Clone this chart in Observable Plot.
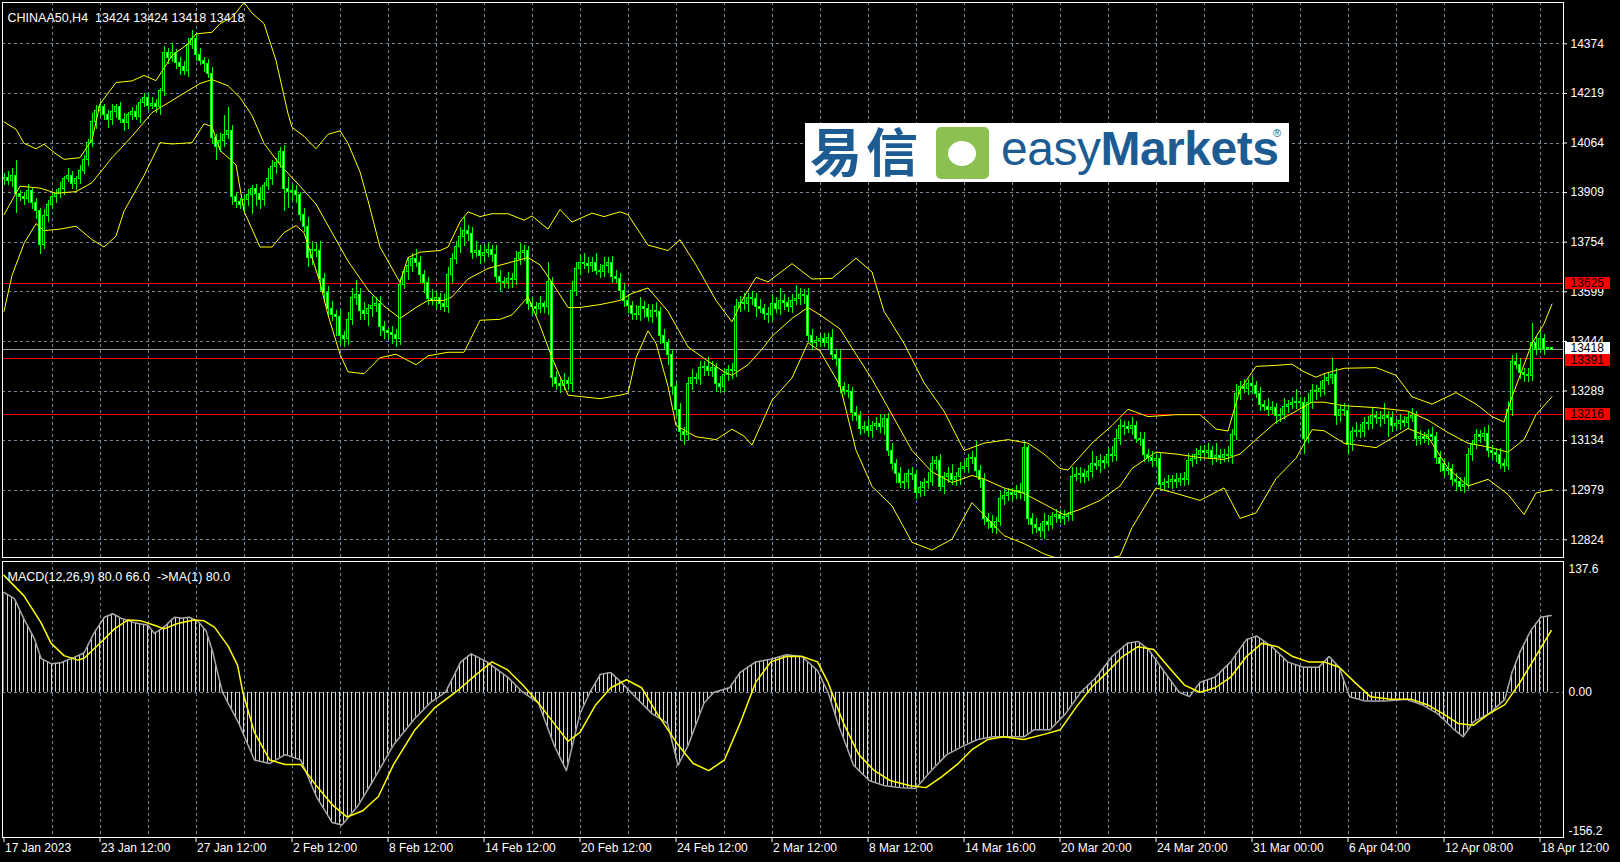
<!DOCTYPE html>
<html><head><meta charset="utf-8">
<script src="https://cdn.jsdelivr.net/npm/d3@7"></script>
<script src="https://cdn.jsdelivr.net/npm/@observablehq/plot@0.6"></script>
<style>
html,body{margin:0;padding:0;background:#000;}
#chart{position:relative;width:1620px;height:862px;overflow:hidden;background:#000;}
#main,#macd{position:absolute;left:0;}
#main{top:0}
#macd{top:560px}
#logo{position:absolute;left:805px;top:123px;}
</style></head><body>
<div id="chart">
<div id="main"></div>
<div id="macd"></div>
<svg id="logo" width="484" height="59" viewBox="0 0 484 59">
  <rect width="484" height="59" fill="#ffffff"/>
  <text x="5" y="49" font-family="'Noto Sans CJK SC'" font-weight="700" font-size="52" fill="#1d5c93" letter-spacing="4">易信</text>
  <rect x="131" y="4" width="53" height="52" rx="5" fill="#8cc152"/>
  <ellipse cx="157" cy="30.5" rx="14" ry="12.5" fill="#ffffff"/>
  <text x="196" y="42" font-family="'Liberation Sans', Arial, sans-serif" font-size="48" fill="#1d5c93" letter-spacing="-0.5"><tspan>easy</tspan><tspan font-weight="700">Markets</tspan></text>
  <text x="468" y="14" font-family="'Liberation Sans', Arial, sans-serif" font-size="11" fill="#1d5c93">®</text>
</svg>
</div>
<script>
// ---------------- DATA ----------------
const titleText = "CHINAA50,H4  13424 13424 13418 13418";
const macdTitle = "MACD(12,26,9) 80.0 66.0  ->MA(1) 80.0";

// price axis tick labels
const priceTicks = [14374,14219,14064,13909,13754,13599,13444,13289,13134,12979,12824];
// horizontal level lines and current bid
const levels = [13625,13391,13216];
const bid = 13418;

// time axis labels (bar index -> label)
const dateIdx = [0,24,48,72,96,120,144,168,192,216,240,264,288,312,336,360,384];
const dateLabels = ["17 Jan 2023","23 Jan 12:00","27 Jan 12:00","2 Feb 12:00","8 Feb 12:00","14 Feb 12:00","20 Feb 12:00","24 Feb 12:00","2 Mar 12:00","8 Mar 12:00","14 Mar 16:00","20 Mar 20:00","24 Mar 20:00","31 Mar 00:00","6 Apr 04:00","12 Apr 08:00","18 Apr 12:00"];

// MACD axis labels
const macdTicks = [137.6, 0, -156.2];
const macdTickLabels = ["137.6","0.00","-156.2"];

// H4 candles: first open, then close per bar (open = previous close)
const firstOpen = 13950;
const closes = [
13955,13945,13960,13905,13895,13890,13915,13875,13850,13745,13835,13870,
13895,13905,13920,13950,13960,13935,13950,13975,14010,14065,14130,14165,
14175,14150,14135,14160,14175,14135,14125,14150,14160,14145,14190,14205,
14180,14185,14175,14225,14345,14330,14345,14315,14300,14290,14370,14390,
14340,14320,14310,14280,14080,14050,14070,14090,14100,13895,13880,13870,
13885,13900,13920,13905,13885,13930,13950,13990,14000,14035,13920,13910,
13915,13900,13840,13800,13705,13730,13725,13640,13595,13545,13525,13520,
13460,13450,13510,13580,13590,13540,13530,13545,13555,13560,13490,13475,
13470,13465,13450,13620,13660,13680,13700,13690,13650,13625,13575,13570,
13580,13560,13550,13650,13700,13740,13770,13790,13780,13720,13725,13710,
13720,13730,13715,13645,13630,13625,13640,13635,13700,13720,13725,13560,
13550,13545,13560,13550,13630,13330,13310,13305,13320,13310,13600,13670,
13690,13685,13680,13690,13665,13660,13680,13690,13645,13640,13600,13570,
13555,13530,13525,13550,13545,13520,13540,13535,13460,13440,13400,13300,
13230,13160,13150,13310,13330,13325,13360,13365,13350,13360,13310,13300,
13340,13355,13350,13550,13565,13560,13580,13575,13550,13545,13530,13525,
13560,13545,13570,13565,13550,13570,13575,13590,13585,13460,13440,13445,
13450,13440,13455,13400,13390,13300,13290,13285,13220,13210,13170,13175,
13165,13180,13185,13175,13200,13100,13060,13030,13000,13005,13030,13025,
12970,12985,13000,13005,13060,13070,12990,13020,13030,13010,13020,13045,
13050,13075,13080,13040,13010,12890,12880,12860,12880,12950,12960,12970,
12965,12975,12970,13110,12890,12870,12860,12850,12880,12870,12895,12900,
12890,12895,12900,13020,13025,13030,13020,13035,13060,13055,13070,13065,
13090,13085,13140,13180,13175,13170,13180,13140,13135,13090,13080,13070,
13075,12995,13000,13005,13010,13005,13015,13010,13070,13075,13090,13100,
13095,13100,13080,13085,13080,13090,13085,13150,13280,13300,13295,13310,
13305,13280,13245,13240,13230,13235,13210,13215,13240,13245,13250,13255,
13250,13140,13250,13290,13285,13295,13320,13330,13340,13210,13230,13225,
13120,13160,13165,13160,13190,13185,13210,13205,13200,13210,13205,13180,
13185,13195,13190,13205,13210,13140,13145,13140,13150,13145,13080,13060,
13040,13045,13010,13005,12990,12995,13090,13120,13150,13145,13155,13100,
13095,13090,13060,13055,13230,13380,13370,13345,13340,13335,13440,13420,
13450,13420,13424,13418];
// upper wick above body top, lower wick below body bottom (price units)
const wickUp = [
15,20,25,50,10,15,20,10,15,10,20,15,
10,15,20,10,25,15,10,20,15,10,25,15,
20,10,15,25,10,15,20,10,15,20,10,15,
10,20,15,10,20,15,30,10,15,20,20,25,
15,20,10,15,20,10,25,60,75,20,15,10,
15,20,10,15,20,10,35,20,15,15,20,35,
20,15,10,20,30,25,20,30,15,20,25,15,
20,15,25,30,45,20,25,15,30,20,25,15,
10,20,15,20,15,25,20,30,20,15,20,30,
20,15,30,25,20,15,30,40,15,20,30,20,
25,20,15,30,20,15,20,15,25,30,20,15,
20,15,25,10,60,15,20,15,25,10,30,20,
25,30,20,15,30,20,25,15,20,20,15,25,
20,15,25,30,20,15,20,25,15,20,10,20,
15,20,15,20,25,15,20,15,30,20,15,25,
20,15,20,25,20,30,15,20,20,25,15,20,
30,20,40,20,15,20,45,20,15,25,20,15,
15,20,15,25,20,30,15,20,15,20,15,20,
25,15,20,30,15,20,25,15,20,25,15,20,
15,20,15,30,25,15,20,15,20,30,15,20,
20,15,20,50,15,20,15,20,15,25,20,15,
15,20,25,20,10,15,20,15,25,20,15,20,
15,20,10,30,25,20,15,20,40,25,20,15,
20,25,30,20,15,20,25,15,20,25,15,20,
15,20,15,20,15,20,15,20,25,15,20,15,
20,25,15,40,20,15,25,20,30,20,25,15,
20,15,20,15,25,20,15,20,25,15,20,40,
15,20,30,20,15,25,20,15,50,20,15,20,
20,15,25,20,15,20,25,15,20,40,15,20,
15,20,15,20,25,15,20,15,20,25,15,20,
15,20,15,20,15,25,20,15,20,15,20,25,
20,15,20,15,25,20,25,20,15,20,60,20,
30,15,0,0];
const wickDown = [
20,15,20,60,15,20,15,20,25,30,15,20,
15,20,15,20,10,15,20,15,10,20,15,25,
20,15,25,15,20,10,25,20,15,10,20,15,
15,10,20,25,15,20,15,20,25,15,20,15,
20,15,25,15,20,40,15,20,15,25,20,15,
25,20,60,40,30,20,15,20,25,15,70,50,
30,25,20,15,30,25,20,40,30,25,20,60,
30,25,20,15,25,30,20,40,25,20,30,25,
20,30,25,20,15,25,20,15,25,30,20,15,
25,20,15,20,25,15,20,30,25,20,15,25,
20,15,25,20,30,15,20,25,15,20,25,20,
25,20,15,20,25,30,20,25,15,20,25,15,
20,15,25,20,15,20,15,25,20,15,25,20,
25,20,15,20,30,15,20,15,25,20,30,25,
20,25,30,15,20,15,20,25,15,20,25,20,
15,20,25,20,15,20,25,20,30,15,20,25,
20,15,20,25,15,20,15,20,25,15,20,15,
20,15,20,15,25,20,15,20,25,15,20,15,
20,25,15,20,25,15,20,30,15,20,25,15,
20,15,25,20,15,20,15,25,20,15,20,25,
15,20,15,20,25,20,25,15,20,15,20,15,
20,15,20,25,20,30,15,20,25,20,15,20,
15,20,15,20,15,25,20,15,20,15,25,20,
15,20,15,20,25,15,20,15,20,25,15,20,
20,15,20,15,25,20,15,20,15,20,15,20,
15,20,25,15,20,15,20,25,15,20,15,20,
25,15,20,15,20,15,25,20,15,20,15,20,
20,50,15,20,25,15,20,15,20,30,20,15,
30,20,15,20,15,20,15,20,25,15,60,20,
15,20,15,20,15,25,20,15,20,15,20,25,
20,15,20,30,15,20,15,20,15,20,15,20,
20,25,15,20,15,20,15,20,25,20,15,20,
15,20,0,0];

// Bollinger bands (20,2) read at sample bars
const upperIdx = [0,3,5,8,10,13,15,19,22,24,28,32,35,38,42,46,48,52,54,57,60,62,65,68,71,72,75,78,81,84,86,89,91,94,96,99,101,104,109,111,114,116,119,122,126,130,132,136,139,142,147,150,154,156,161,166,169,173,178,182,185,188,191,197,202,207,213,217,220,225,230,235,240,245,251,256,260,264,266,272,277,281,286,293,299,303,306,309,313,318,322,325,328,330,335,343,348,352,357,363,368,372,375,377,380,382,385,387];
const upperVal = [14130,14107,14063,14046,14060,14030,14013,14018,14074,14186,14253,14258,14275,14259,14337,14374,14405,14410,14437,14456,14503,14470,14437,14322,14156,14113,14085,14046,14091,14102,14063,13974,13884,13739,13695,13628,13706,13723,13728,13739,13817,13849,13834,13843,13843,13823,13836,13795,13856,13817,13845,13834,13849,13840,13745,13728,13762,13683,13572,13505,13583,13644,13630,13687,13639,13641,13704,13661,13538,13438,13315,13226,13103,13126,13137,13126,13092,13047,13042,13126,13181,13232,13209,13215,13215,13170,13164,13293,13366,13369,13373,13349,13332,13343,13360,13362,13338,13271,13248,13284,13248,13209,13192,13271,13371,13438,13499,13561];
const midIdx = [0,4,9,13,18,22,27,32,37,44,49,52,56,59,62,65,69,74,78,81,86,91,95,99,103,106,110,112,116,121,126,131,134,137,141,144,149,154,157,161,166,171,176,180,182,186,190,192,197,201,204,209,213,217,222,227,232,237,242,245,250,255,260,265,269,274,279,282,288,293,299,305,309,313,318,323,327,330,335,343,351,356,361,366,371,376,380,383,387];
const midVal = [13840,13929,13923,13907,13912,13940,14018,14085,14159,14212,14250,14262,14243,14206,14150,14063,13996,13929,13873,13806,13695,13605,13555,13516,13550,13572,13572,13583,13639,13672,13689,13706,13683,13628,13550,13550,13559,13572,13594,13611,13538,13427,13382,13349,13338,13371,13427,13460,13516,13550,13527,13483,13404,13326,13215,13103,13036,13003,13025,13014,12986,12969,12936,12902,12919,12947,12992,13047,13098,13092,13081,13075,13092,13137,13192,13226,13254,13254,13243,13237,13226,13198,13159,13126,13114,13098,13137,13215,13271];
const lowerIdx = [0,2,5,8,10,14,18,22,25,28,30,35,39,42,47,50,52,54,58,60,64,67,70,73,75,79,81,84,86,90,94,98,103,106,111,115,119,124,127,131,134,137,141,149,154,156,158,161,163,166,168,173,178,182,185,187,190,192,197,201,204,209,213,217,222,227,232,237,242,245,250,255,260,265,269,274,279,282,288,293,299,305,309,313,318,323,327,330,335,343,351,356,361,366,371,376,380,383,387];
const lowerVal = [13538,13650,13750,13812,13790,13795,13804,13762,13739,13773,13851,13962,14065,14061,14065,14124,14115,14041,13996,13851,13739,13739,13784,13806,13784,13628,13527,13404,13349,13343,13393,13404,13371,13399,13410,13410,13510,13513,13527,13583,13494,13393,13276,13265,13276,13282,13393,13477,13438,13304,13181,13146,13137,13170,13148,13120,13204,13260,13330,13440,13414,13306,13104,12991,12930,12816,12792,12826,12940,12902,12837,12812,12780,12759,12758,12760,12774,12862,12986,12969,12947,12986,12891,12908,13015,13079,13168,13165,13126,13112,13172,13146,13048,12992,13013,12966,12903,12970,12981];

// MACD main (histogram) and signal line, read at sample bars
const macdIdx = [0,2.6,5,7.6,9.25,11.75,14.25,17.5,20,22.6,25.1,27.2,29.25,32.6,36,37.6,40,42.6,44.7,46.3,48.4,50.5,52.2,53.4,54.6,58.7,62.6,66.4,70.3,74.2,78.1,82,84.5,88.4,92.3,97.4,102.6,106.5,110.4,114.2,116.8,120.7,125.9,129.7,133.6,137.5,140.6,144,146.5,149.1,151.7,154.3,158.2,162,165.9,168.5,171.1,175,177.5,181.4,184,187.9,191.7,195.6,199.5,203.4,206,208.5,212.4,216.3,220.2,224,227.9,231.8,235.7,239.5,243.4,247.3,251.2,255,257.6,261.5,265.4,269.2,273.1,277,280.9,283.5,286.1,289.9,293.8,296.4,299,302.8,306.7,310.6,313.2,317,320.9,324.8,328.7,331.3,333.8,336.4,340.3,345.5,350.6,354.5,358.4,362.3,364.8,367.4,371.3,375.2,377,379,381.7,384.2,386.8];
const macdVal = [112,105,82,60,38,32,33,39,44,67,84,88,83,78,75,66,73,84,83,84,80,69,45,22,0,-35,-76,-80,-70,-76,-117,-146,-149,-128,-99,-59,-30,-12,0,34,43,34,17,0,-12,-59,-88,-24,0,20,22,11,-7,-24,-35,-82,-59,-12,0,5,22,34,37,42,40,24,0,-35,-82,-99,-105,-107,-108,-88,-70,-61,-53,-50,-50,-50,-42,-42,-24,0,17,40,55,57,48,24,0,-5,11,17,34,59,63,51,34,28,28,40,28,-5,-10,-10,-8,-14,-24,-41,-50,-33,-24,-8,22,45,69,84,86];
const sigIdx = [0,5,9.25,11.75,15,18.4,20,24.25,27.6,31,34.25,37.6,40,43.4,47.5,50,52.6,56,58.4,59.7,62.6,66.4,70.3,74.2,78.1,82,85.8,89.7,93.6,97.4,102.6,107.8,112.9,118.1,122,125.9,129.7,133.6,137.5,141,144,147.8,151.7,155.6,159.4,163.3,168.5,172.3,176.2,180.1,184,187.9,191.7,195.6,199.5,203.4,206,209.9,213.7,217.6,221.5,226.6,230.5,234.4,238.3,242.1,246,249.9,255,260.2,264.1,268,271.8,275.7,279.6,283.5,287.4,291.2,295.1,299,302.8,306.7,310.6,314.5,318.4,322.2,326.1,330,333.8,337.7,341.6,346.8,351.9,355.8,359.7,363.5,367.4,371.3,375.2,379,382.9,386.8];
const sigVal = [131,108,78,55,41,36,38,56,71,81,80,75,71,77,81,80,73,52,30,0,-45,-76,-81,-81,-105,-126,-140,-133,-117,-81,-43,-17,0,20,34,25,8,-12,-35,-55,-45,-15,5,14,5,-24,-59,-80,-88,-76,-35,11,34,40,40,34,11,-35,-70,-88,-99,-105,-107,-95,-81,-64,-53,-50,-53,-47,-42,-17,5,22,40,51,48,28,8,0,5,17,40,55,51,40,34,34,28,11,-5,-8,-8,-14,-24,-35,-37,-24,-14,11,40,69];

// ---------------- BUILD ----------------
const candles = closes.map((c, i) => {
  const o = i === 0 ? firstOpen : closes[i - 1];
  return {i, o, c, h: Math.max(o, c) + wickUp[i], l: Math.min(o, c) - wickDown[i]};
});
const pts = (idx, val) => idx.map((i, k) => ({i, v: val[k]}));
const upper = pts(upperIdx, upperVal), mid = pts(midIdx, midVal), lower = pts(lowerIdx, lowerVal);
const macd = pts(macdIdx, macdVal), signal = pts(sigIdx, sigVal);
const gridIdx = d3.range(12, 388, 12);

const FONT = '"Liberation Sans", Arial, sans-serif';
const GRID = {stroke: "#778899", strokeDasharray: "3,3", shapeRendering: "crispEdges"};
const X = {domain: [0, 387], range: [3.5, 1551.5], axis: null};
const BOX = {insetLeft: 1563, insetRight: -47, strokeWidth: 12, shapeRendering: "crispEdges"};
const LBL = {y: d => d, text: d => String(d), frameAnchor: "right", textAnchor: "start", dx: 7};

const mainSvg = Plot.plot({
  width: 1620, height: 560,
  marginTop: 2, marginRight: 57, marginBottom: 3, marginLeft: 2,
  style: {background: "#000", color: "#fff", fontFamily: FONT, fontSize: "12px", overflow: "visible"},
  x: X,
  y: {domain: [12824, 14374], range: [539.3, 43.3], axis: null},
  marks: [
    Plot.ruleY(priceTicks, GRID),
    Plot.ruleX(gridIdx, GRID),
    Plot.ruleY(levels, {stroke: "#ff0000", shapeRendering: "crispEdges"}),
    Plot.ruleY([bid], {stroke: "#9a9a9a", shapeRendering: "crispEdges"}),
    Plot.ruleX(candles, {x: "i", y1: "l", y2: "h", stroke: "#00ff00", shapeRendering: "crispEdges", clip: true}),
    Plot.rect(candles, {x1: d => d.i - 0.25, x2: d => d.i + 0.25, y1: "o", y2: "c",
      fill: d => d.c < d.o ? "#ffffff" : "#000000", stroke: "#00ff00", shapeRendering: "crispEdges", clip: true}),
    Plot.line(upper, {x: "i", y: "v", stroke: "#ffff00", strokeWidth: 1, clip: true}),
    Plot.line(mid, {x: "i", y: "v", stroke: "#ffff00", strokeWidth: 1, clip: true}),
    Plot.line(lower, {x: "i", y: "v", stroke: "#ffff00", strokeWidth: 1, clip: true}),
    Plot.frame({stroke: "#ffffff"}),
    Plot.ruleY(priceTicks, {insetLeft: 1561, insetRight: -4, stroke: "#ffffff"}),
    Plot.text(priceTicks, {...LBL, fill: "#ffffff"}),
    // level price tags (the two close ones are nudged apart, as in the terminal)
    Plot.ruleY([levels[0], levels[2]], {...BOX, stroke: "#ff0000"}),
    Plot.text([levels[0], levels[2]], {...LBL, fill: "#000000"}),
    Plot.ruleY([levels[1]], {...BOX, stroke: "#ff0000", dy: 2}),
    Plot.text([levels[1]], {...LBL, dy: 2, fill: "#000000"}),
    Plot.ruleY([bid], {...BOX, stroke: "#ffffff", dy: -1.5}),
    Plot.text([bid], {...LBL, dy: -1.5, fill: "#000000"}),
    Plot.text([titleText], {frameAnchor: "top-left", dx: 5, dy: 10.5, textAnchor: "start", fill: "#ffffff", fontSize: 12.5})
  ]
});
document.getElementById("main").appendChild(mainSvg);

const macdSvg = Plot.plot({
  width: 1620, height: 302,
  marginTop: 1, marginRight: 57, marginBottom: 25, marginLeft: 2,
  style: {background: "#000", color: "#fff", fontFamily: FONT, fontSize: "12px", overflow: "visible"},
  x: X,
  y: {domain: [-156.2, 137.6], range: [271, 9], axis: null},
  marks: [
    Plot.ruleX(gridIdx, GRID),
    Plot.ruleY([0], GRID),
    Plot.areaY(macd, {x: "i", y: "v", fill: "url(#macdHatch)"}),
    Plot.line(macd, {x: "i", y: "v", stroke: "#a8a8a8"}),
    Plot.line(signal, {x: "i", y: "v", stroke: "#ffff00"}),
    Plot.frame({stroke: "#ffffff"}),
    Plot.text(macdTicks, {y: d => d, text: (d, i) => macdTickLabels[i], frameAnchor: "right", textAnchor: "start", dx: 5, fill: "#ffffff"}),
    Plot.ruleX(dateIdx, {insetTop: 276, insetBottom: -5, stroke: "#ffffff"}),
    Plot.text(dateIdx, {x: d => d, text: (d, i) => dateLabels[i], frameAnchor: "bottom", textAnchor: "start", dx: 1, dy: 14, fill: "#ffffff"}),
    Plot.text([macdTitle], {frameAnchor: "top-left", dx: 5, dy: 11, textAnchor: "start", fill: "#ffffff", fontSize: 12.5})
  ]
});
// hatch pattern for the MACD histogram (one thin line per bar slot)
const NS = "http://www.w3.org/2000/svg";
const defs = document.createElementNS(NS, "defs");
const pat = document.createElementNS(NS, "pattern");
pat.setAttribute("id", "macdHatch");
pat.setAttribute("patternUnits", "userSpaceOnUse");
pat.setAttribute("width", "4");
pat.setAttribute("height", "8");
const pr = document.createElementNS(NS, "rect");
pr.setAttribute("x", "3"); pr.setAttribute("y", "0");
pr.setAttribute("width", "1"); pr.setAttribute("height", "8");
pr.setAttribute("fill", "#d8d8d8");
pat.appendChild(pr); defs.appendChild(pat);
macdSvg.insertBefore(defs, macdSvg.firstChild);
document.getElementById("macd").appendChild(macdSvg);
</script>
</body></html>
